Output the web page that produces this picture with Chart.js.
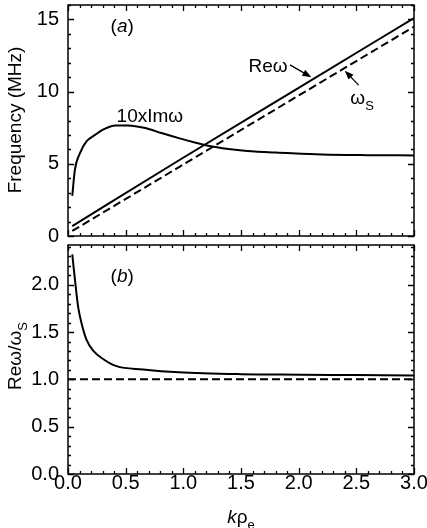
<!DOCTYPE html>
<html>
<head>
<meta charset="utf-8">
<script src="https://cdn.jsdelivr.net/npm/chart.js@4/dist/chart.umd.min.js"></script>
<style>
  body { margin: 0; background: #fff; }
  canvas { position: absolute; left: 0; }
</style>
</head>
<body>
<canvas id="topChart" width="427" height="250" style="top:0"></canvas>
<canvas id="botChart" width="427" height="288" style="top:240px"></canvas>
<script>
// ---- data ----
// panel (a): 10 x Im(omega)
const kIm = [0.037, 0.06, 0.104, 0.16, 0.234, 0.3, 0.41, 0.52, 0.67, 0.81, 0.96, 1.1, 1.25, 1.45, 1.62, 1.8, 2.2, 2.6, 3.0];
const imOmega10 = [2.78, 4.6, 5.74, 6.55, 7.0, 7.35, 7.66, 7.66, 7.48, 7.13, 6.78, 6.48, 6.2, 5.97, 5.85, 5.79, 5.65, 5.6, 5.58];
// panel (a): Re(omega) and omega_S (straight lines)
const kLine = [0.037, 0.97, 2.0, 3.0];
const reOmega = [0.69, 5.28, 10.26, 15.1];
const omegaS = [0.35, 4.81, 9.73, 14.5];
// panel (b): Re(omega)/omega_S
const kRatio = [0.037, 0.075, 0.09, 0.12, 0.16, 0.22, 0.31, 0.42, 0.65, 0.96, 1.5, 2.02, 2.5, 3.0];
const ratio = [2.32, 1.89, 1.75, 1.58, 1.42, 1.30, 1.21, 1.14, 1.105, 1.075, 1.055, 1.05, 1.045, 1.04];
const kFlat = [0, 3];
const unity = [1, 1];

// ticks
const xMajor = [0, 0.5, 1.0, 1.5, 2.0, 2.5, 3.0];
const xMinor = [0.1, 0.2, 0.3, 0.4, 0.6, 0.7, 0.8, 0.9, 1.1, 1.2, 1.3, 1.4, 1.6, 1.7, 1.8, 1.9, 2.1, 2.2, 2.3, 2.4, 2.6, 2.7, 2.8, 2.9];
const topYMajor = [0, 5, 10, 15];
const topYMinor = [1, 2, 3, 4, 6, 7, 8, 9, 11, 12, 13, 14, 16];
const botYMajor = [0, 0.5, 1.0, 1.5, 2.0];
const botYMinor = [0.1, 0.2, 0.3, 0.4, 0.6, 0.7, 0.8, 0.9, 1.1, 1.2, 1.3, 1.4, 1.6, 1.7, 1.8, 1.9, 2.1, 2.2, 2.3, 2.4];

const FONT = '"Liberation Sans", Arial, sans-serif';
const FS = 19;      // titles and labels
const TICK_FS = 20; // tick numbers

const pts = (xs, ys) => xs.map((x, i) => ({ x: x, y: ys[i] }));

// draw a row of text pieces: [text, style] with style '' | 'i' | 's'
function drawRuns(ctx, cx, cy, runs, size) {
    const fontOf = st => (st === 'i' ? 'italic ' : '') + (st === 's' ? Math.round(size * 0.7) : size) + 'px ' + FONT;
    let total = 0;
    runs.forEach(r => { ctx.font = fontOf(r[1]); total += ctx.measureText(r[0]).width; });
    let x = cx - total / 2;
    const base = cy + size * 0.36;
    ctx.textAlign = 'left';
    ctx.textBaseline = 'alphabetic';
    runs.forEach(r => {
        ctx.font = fontOf(r[1]);
        ctx.fillText(r[0], x, r[1] === 's' ? base + size * 0.3 : base);
        x += ctx.measureText(r[0]).width;
    });
}

function arrow(ctx, x1, y1, x2, y2) {
    const ang = Math.atan2(y2 - y1, x2 - x1);
    const len = 9, half = 3.5;
    ctx.beginPath();
    ctx.moveTo(x1, y1);
    ctx.lineTo(x2 - Math.cos(ang) * len * 0.8, y2 - Math.sin(ang) * len * 0.8);
    ctx.lineWidth = 1.3;
    ctx.stroke();
    ctx.beginPath();
    ctx.moveTo(x2, y2);
    ctx.lineTo(x2 - Math.cos(ang) * len + Math.sin(ang) * half, y2 - Math.sin(ang) * len - Math.cos(ang) * half);
    ctx.lineTo(x2 - Math.cos(ang) * len - Math.sin(ang) * half, y2 - Math.sin(ang) * len + Math.cos(ang) * half);
    ctx.closePath();
    ctx.fill();
}

// frame, inward ticks, labels and arrows
const decor = {
    id: 'decor',
    afterDatasetsDraw(chart, args, o) {
        const { ctx, chartArea: a, scales } = chart;
        const sx = scales.x, sy = scales.y;
        ctx.save();
        ctx.strokeStyle = '#000';
        ctx.fillStyle = '#000';
        ctx.lineWidth = 1.3;
        ctx.beginPath();
        const xt = (vals, len) => vals.forEach(v => {
            const p = Math.round(sx.getPixelForValue(v)) + 0.5;
            ctx.moveTo(p, a.bottom); ctx.lineTo(p, a.bottom - len);
            ctx.moveTo(p, a.top); ctx.lineTo(p, a.top + len);
        });
        const yt = (vals, len) => vals.forEach(v => {
            const p = Math.round(sy.getPixelForValue(v)) + 0.5;
            ctx.moveTo(a.left, p); ctx.lineTo(a.left + len, p);
            ctx.moveTo(a.right, p); ctx.lineTo(a.right - len, p);
        });
        xt(xMajor, 6); xt(xMinor, 3);
        yt(o.yMajor, 6); yt(o.yMinor, 3);
        ctx.stroke();
        ctx.lineWidth = 1.5;
        ctx.strokeRect(a.left, a.top, a.right - a.left, a.bottom - a.top);

        ctx.fillStyle = '#000';
        (o.labels || []).forEach(l => {
            drawRuns(ctx, sx.getPixelForValue(l.x), sy.getPixelForValue(l.y), l.runs, FS);
        });
        (o.arrows || []).forEach(ar => {
            arrow(ctx, sx.getPixelForValue(ar[0]), sy.getPixelForValue(ar[1]),
                  sx.getPixelForValue(ar[2]), sy.getPixelForValue(ar[3]));
        });
        // y title (rotated)
        ctx.save();
        ctx.translate(o.yTitle.x, o.yTitle.y);
        ctx.rotate(-Math.PI / 2);
        drawRuns(ctx, 0, 0, o.yTitle.runs, FS);
        ctx.restore();
        if (o.xTitle) drawRuns(ctx, (a.left + a.right) / 2, o.xTitle.y, o.xTitle.runs, FS);
        ctx.restore();
    }
};

function lineSet(data, dashed) {
    return {
        data: data,
        borderColor: '#000',
        borderWidth: 2,
        borderDash: dashed ? [8, 4] : [],
        pointRadius: 0,
        fill: false,
        cubicInterpolationMode: 'monotone'
    };
}

function yAxis(min, max, ticks, fmt) {
    return {
        type: 'linear',
        min: min,
        max: max,
        afterFit: s => { s.width = 68; s.paddingTop = 0; s.paddingBottom = 0; },
        afterBuildTicks: s => { s.ticks = ticks.map(v => ({ value: v })); },
        grid: { display: false, drawTicks: false },
        border: { display: false },
        ticks: {
            color: '#000',
            padding: 9,
            font: { family: FONT, size: TICK_FS },
            callback: fmt
        }
    };
}

// Chart (a)
new Chart(document.getElementById('topChart'), {
    type: 'line',
    data: {
        datasets: [
            lineSet(pts(kIm, imOmega10), false),
            lineSet(pts(kLine, reOmega), false),
            lineSet(pts(kLine, omegaS), true)
        ]
    },
    options: {
        responsive: false,
        animation: false,
        layout: { autoPadding: false, padding: { top: 5, right: 13, bottom: 14, left: 0 } },
        plugins: {
            legend: { display: false },
            tooltip: { enabled: false },
            decor: {
                yMajor: topYMajor,
                yMinor: topYMinor,
                labels: [
                    { x: 0.47, y: 14.6, runs: [['(', ''], ['a', 'i'], [')', '']] },
                    { x: 0.71, y: 8.4, runs: [['10xIm\u03c9', '']] },
                    { x: 1.735, y: 11.8, runs: [['Re\u03c9', '']] },
                    { x: 2.55, y: 9.6, runs: [['\u03c9', ''], ['S', 's']] }
                ],
                arrows: [
                    [1.925, 11.85, 2.11, 11.0],
                    [2.52, 10.45, 2.40, 11.45]
                ],
                yTitle: { x: 14, y: 120, runs: [['Frequency (MHz)', '']] }
            }
        },
        scales: {
            x: { type: 'linear', min: 0, max: 3, display: false },
            y: yAxis(0, 16, topYMajor, v => String(v))
        }
    },
    plugins: [decor]
});

// Chart (b)
new Chart(document.getElementById('botChart'), {
    type: 'line',
    data: {
        datasets: [
            lineSet(pts(kRatio, ratio), false),
            lineSet(pts(kFlat, unity), true)
        ]
    },
    options: {
        responsive: false,
        animation: false,
        layout: { autoPadding: false, padding: { top: 5, right: 13, bottom: 0, left: 0 } },
        plugins: {
            legend: { display: false },
            tooltip: { enabled: false },
            decor: {
                yMajor: botYMajor,
                yMinor: botYMinor,
                labels: [
                    { x: 0.47, y: 2.1, runs: [['(', ''], ['b', 'i'], [')', '']] }
                ],
                yTitle: { x: 14, y: 116, runs: [['Re\u03c9/\u03c9', ''], ['S', 's']] },
                xTitle: { y: 276, runs: [['k', 'i'], ['\u03c1', ''], ['e', 's']] }
            }
        },
        scales: {
            x: {
                type: 'linear',
                min: 0,
                max: 3,
                afterFit: s => { s.height = 54; s.paddingLeft = 0; s.paddingRight = 0; },
                afterBuildTicks: s => { s.ticks = xMajor.map(v => ({ value: v })); },
                grid: { display: false, drawTicks: false },
                border: { display: false },
                ticks: {
                    color: '#000',
                    padding: -3,
                    autoSkip: false,
                    maxRotation: 0,
                    font: { family: FONT, size: TICK_FS },
                    callback: v => Number(v).toFixed(1)
                }
            },
            y: yAxis(0, 2.42, botYMajor, v => Number(v).toFixed(1))
        }
    },
    plugins: [decor]
});
</script>
</body>
</html>
